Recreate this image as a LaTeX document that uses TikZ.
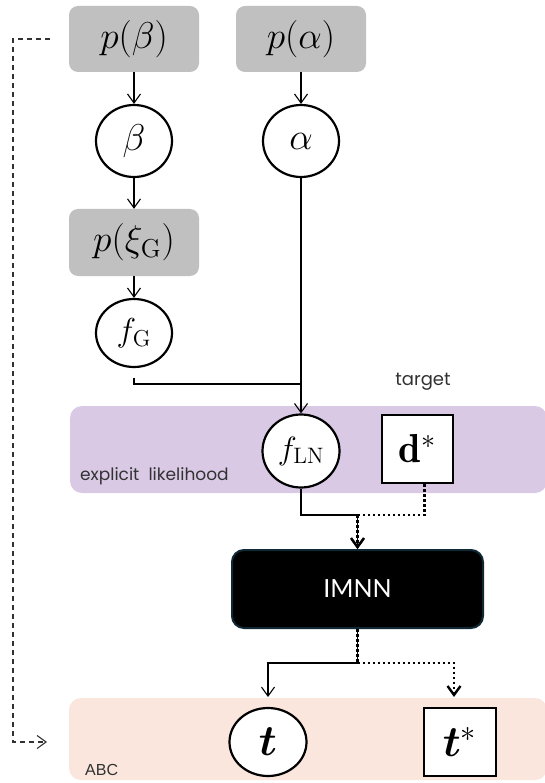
\documentclass[tikz,border=0pt]{standalone}
\usepackage{graphicx}
\usepackage{bm}
\usepackage{fontspec}
\newfontfamily\labelfont{Poppins}
\newfontfamily\imnnfont{Lato}
\newfontfamily\arialfont{Liberation Sans}
\usetikzlibrary{arrows.meta,shapes.geometric}
\definecolor{priorgray}{RGB}{192,192,192}
\definecolor{lavender}{RGB}{217,201,229}
\definecolor{peach}{RGB}{250,230,221}
\definecolor{imnnborder}{RGB}{16,40,52}
\definecolor{labelgray}{RGB}{50,50,50}
\newcommand{\BigMath}[2][1.8]{\scalebox{#1}{\fontsize{20.74}{25}\selectfont$#2$}}
\begin{document}
\begin{tikzpicture}[x=1pt,y=-1pt,
  >={Straight Barb[length=9pt,width=13pt]},
  prior/.style={rectangle, rounded corners=9pt, fill=priorgray, minimum width=130pt, minimum height=66pt, inner sep=0pt},
  var/.style={ellipse, draw, line width=2.2pt, fill=white, inner sep=0pt},
  obs/.style={rectangle, draw, line width=2.8pt, fill=white, inner sep=0pt},
  band/.style={rectangle, rounded corners=12pt, inner sep=0pt},
  imnnbox/.style={rectangle, rounded corners=12pt, fill=black, draw=imnnborder, line width=2pt, minimum width=251pt, minimum height=78pt, inner sep=0pt, text=white, font=\imnnfont\fontsize{25}{29}\selectfont},
  flow/.style={line width=1.1pt, ->},
  link/.style={line width=1.1pt},
  dotflow/.style={line width=2.4pt, dash pattern=on 2.5pt off 2.5pt, ->},
  dashflow/.style={line width=1.1pt, dash pattern=on 5pt off 4pt, draw=labelgray, ->},
  bandlabel/.style={inner sep=0pt, text=labelgray, font=\labelfont\fontsize{17}{20}\selectfont},
]
\useasboundingbox (0,0) rectangle (545,783);
% bands
\node[band, fill=lavender, minimum width=477pt, minimum height=87pt] (elband) at (308.5,449.5) {};
\node[band, fill=peach, minimum width=478pt, minimum height=82pt] (abcband) at (308,739) {};
% priors and variables
\node[prior] (pb) at (134,39) {\BigMath{p(\beta)}};
\node[prior] (pa) at (301,39) {\BigMath{p(\alpha)}};
\node[var, minimum width=76pt, minimum height=72pt] (beta) at (134,141) {\BigMath{\beta}};
\node[var, minimum width=76pt, minimum height=72pt] (alpha) at (301,141) {\BigMath{\alpha}};
\node[prior, minimum height=67pt] (pxi) at (134,242.5) {\BigMath{p(\xi_{\mathrm{G}})}};
\node[var, minimum width=76pt, minimum height=68pt] (fG) at (134,333) {\BigMath[1.6]{f_{\mathrm{G}}}};
\node[var, minimum width=77pt, minimum height=73pt] (fLN) at (301,451) {\BigMath[1.55]{f_{\mathrm{LN}}}};
\node[obs, minimum width=71pt, minimum height=68pt] (dstar) at (417.5,449) {\BigMath[1.95]{\mathbf{d}^{*}}};
\node[imnnbox] (imnn) at (357.5,589) {IMNN};
\node[var, minimum width=77pt, minimum height=68pt] (t) at (268,742) {\BigMath[2.1]{\bm{t}}};
\node[obs, minimum width=72pt, minimum height=68pt] (tstar) at (460,742) {\BigMath[2.1]{\bm{t}^{*}}};
% labels
\node[bandlabel, font=\labelfont\fontsize{18}{21}\selectfont] (target) at (423,382) {target};
\node[bandlabel, anchor=base west] (ellabel) at (80,480) {explicit\ \ likelihood};
\node[inner sep=0pt, anchor=base west, text=labelgray, font=\arialfont\fontsize{16}{19}\selectfont] (abclabel) at (85,775) {ABC};
% coordinates
\coordinate (jG) at (301,384);
\coordinate (jin) at (357.5,515);
\coordinate (jout) at (357.5,663);
\coordinate (tin) at (268,697);
\coordinate (tsin) at (454,697);
\coordinate (dstart) at (50,39);
\coordinate (dend) at (47,742);
% connectors
\draw[flow] (pb) -- (beta);
\draw[flow] (pa) -- (alpha);
\draw[flow] (beta) -- (pxi);
\draw[flow] (pxi) -- (fG);
\draw[flow] (alpha) -- (fLN);
\draw[link] ([yshift=-10pt]fG.south) -- (fG.south |- jG) -- (jG);
\draw[link] (fLN.south) |- (jin);
\draw[dotflow, -] ([xshift=7pt]dstar.south) |- (jin);
\draw[flow] (jin) -- (imnn.north);
\draw[dotflow] (jin) -- (imnn.north);
\draw[link] (imnn.south) -- (jout);
\draw[dotflow, -] (imnn.south) -- (jout);
\draw[flow] (jout) -| (tin);
\draw[dotflow] (jout) -| (tsin);
\draw[dashflow] (dstart) -- (13,39) -- (13,742) -- (dend);
\end{tikzpicture}
\end{document}
